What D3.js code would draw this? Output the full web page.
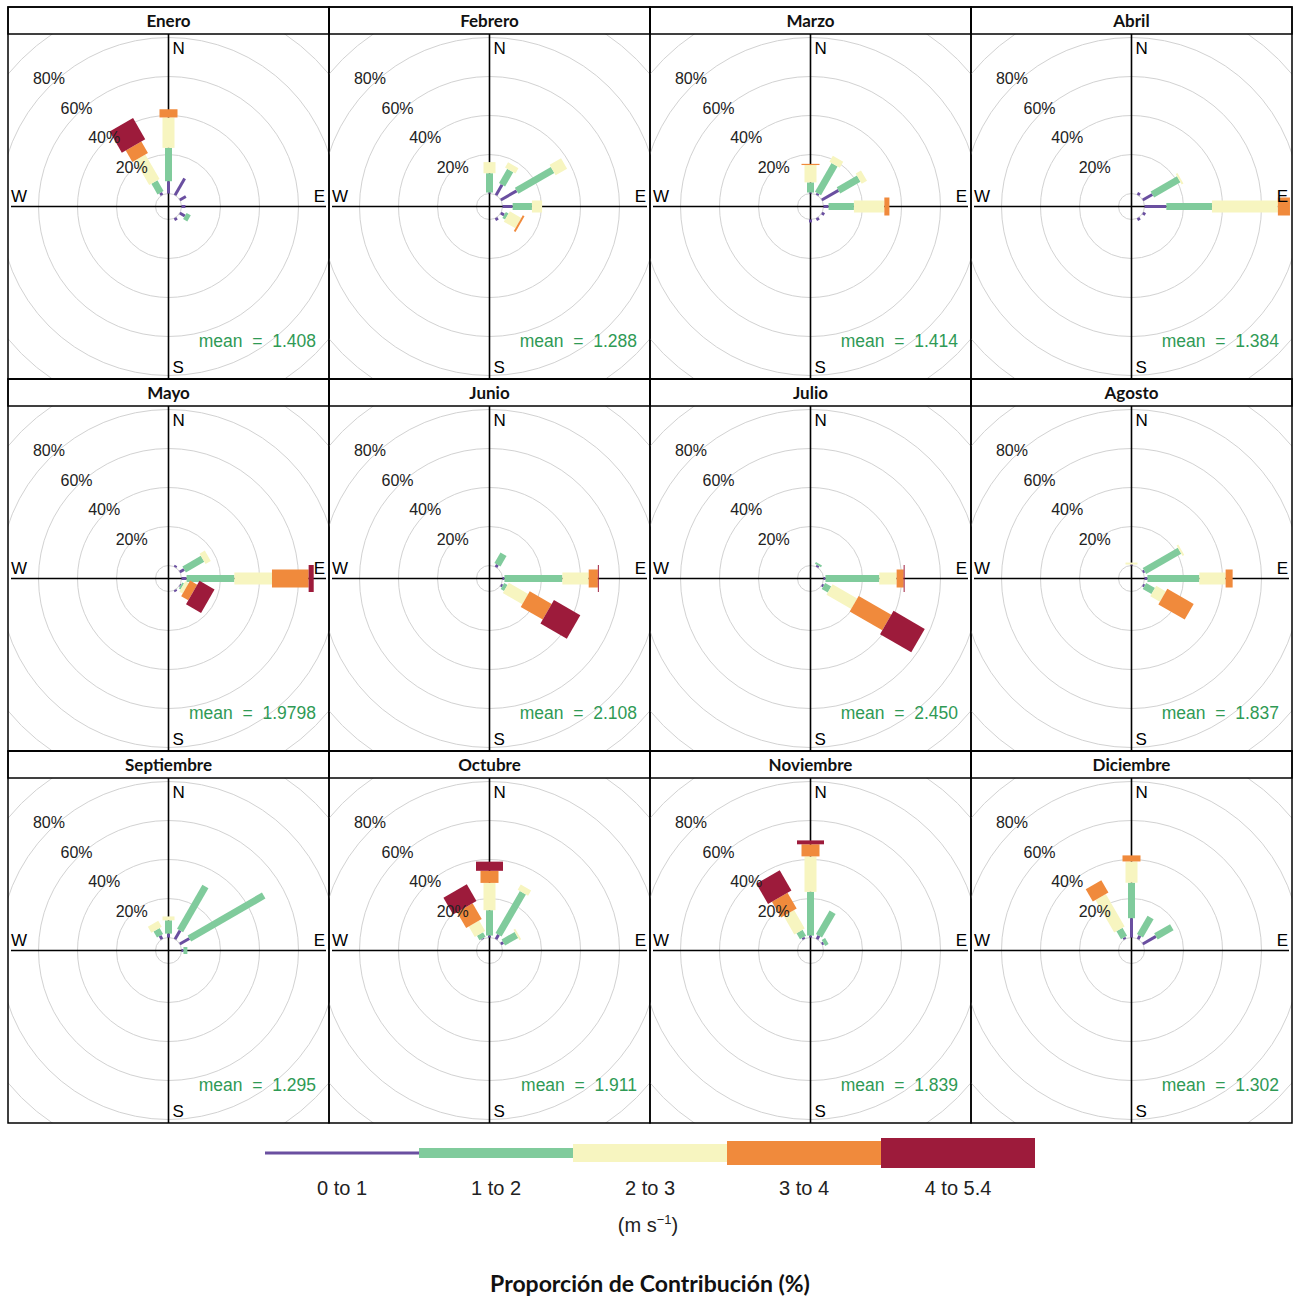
<!DOCTYPE html>
<html>
<head>
<meta charset="utf-8">
<script src="https://cdn.jsdelivr.net/npm/d3@7"></script>
<style>
  body { margin: 0; background: #fff; }
  svg { display: block; }
  .strip text { font-family: Lato, "Open Sans", sans-serif; font-weight: bold; font-size: 17px; }
  .lab { font-family: "Liberation Sans", Arial, sans-serif; }
</style>
</head>
<body>
<svg width="1294" height="1300"></svg>
<script>
const months = ['Enero', 'Febrero', 'Marzo', 'Abril', 'Mayo', 'Junio',
                'Julio', 'Agosto', 'Septiembre', 'Octubre', 'Noviembre', 'Diciembre'];
const means = ['1.408', '1.288', '1.414', '1.384', '1.9798', '2.108',
               '2.450', '1.837', '1.295', '1.911', '1.839', '1.302'];
const intervals = ['0 to 1', '1 to 2', '2 to 3', '3 to 4', '4 to 5.4'];
const ringTicks = [20, 40, 60, 80];

// [direction, 0-1, 1-2, 2-3, 3-4, 4-5.4] in % contribution
const enero = [[0, 6.3, 17.1, 15.6, 4.2, 0], [330, 1.5, 6.3, 14.6, 6.8, 12.5], [30, 9.9, 0, 0, 0, 0],
               [60, 3.6, 0, 0, 0, 0], [90, 2, 0, 0, 0, 0], [120, 3, 2.5, 0, 0, 0], [150, 1.5, 0, 0, 0, 0]];
const febrero = [[0, 0.5, 9.9, 5.7, 0, 0], [30, 6.2, 8.4, 3.1, 0, 0], [60, 9.4, 21.3, 6.8, 0, 0],
                 [90, 5.2, 9.9, 5.2, 0, 0], [120, 2, 1.6, 6.8, 1, 0], [150, 1.5, 0, 0, 0, 0]];
const marzo = [[0, 0.5, 5.2, 8.9, 0.6, 0], [30, 1, 17, 3.6, 0, 0], [60, 9.9, 12, 3.1, 0, 0],
               [90, 2.6, 13, 15.6, 2.6, 0], [120, 1.5, 0, 0, 0, 0], [150, 1.5, 0, 0, 0, 0], [180, 1.5, 0, 0, 0, 0]];
const abril = [[30, 1.5, 0, 0, 0, 0], [60, 5.7, 15.6, 1, 0, 0], [90, 11.2, 23.4, 33.8, 6.2, 0],
               [120, 1.5, 0, 0, 0, 0], [150, 1.5, 0, 0, 0, 0]];
const mayo = [[30, 1, 0, 0, 0, 0], [60, 2.6, 10.9, 3.1, 0, 0], [90, 2.6, 24.5, 19.3, 18.8, 2.6],
              [120, 0.5, 1, 2, 4.2, 8.9], [150, 1, 0, 0, 0, 0]];
const junio = [[30, 1.5, 6.2, 0, 0, 0], [90, 1, 29.7, 13.5, 4.7, 0.5], [120, 1, 2, 11.5, 13, 15.6]];
const julio = [[30, 1, 1, 0, 0, 0], [90, 1, 27.6, 8.9, 3.6, 0.5], [120, 1, 3.6, 14.6, 19.3, 18.5]];
const agosto = [[0, 0.5, 0, 1, 0, 0], [60, 1, 20.8, 1, 0, 0], [90, 1.5, 26.6, 13.5, 3.6, 0],
                [120, 1, 5.2, 5.7, 15.6, 0]];
const septiembre = [[330, 2, 3.6, 3.6, 0, 0], [0, 2, 6.8, 2, 0, 0], [30, 5.2, 26, 0, 0, 0],
                    [60, 5.7, 44, 0, 0, 0], [90, 1, 2, 0, 0, 0]];
const octubre = [[330, 0.5, 2.6, 6.2, 9.4, 9.9], [0, 1, 13, 14, 6.2, 4.7], [30, 2.6, 25, 3.1, 0, 0],
                 [60, 1.5, 7.8, 1, 0, 0]];
const noviembre = [[330, 1, 3.6, 10.9, 9.4, 12], [0, 1, 22.4, 18.2, 6.2, 2], [30, 2, 14, 0, 0, 0],
                   [60, 1, 2, 0, 0, 0]];
const diciembre = [[330, 1, 4.7, 19.3, 7.3, 0], [0, 9.9, 18.2, 10.9, 3.1, 0], [30, 2, 10.9, 0, 0, 0],
                   [60, 7.8, 9.4, 0, 0, 0]];
const roses = [enero, febrero, marzo, abril, mayo, junio, julio, agosto, septiembre, octubre, noviembre, diciembre];

const colours = ['#6a4fa0', '#80cb9c', '#f7f5c0', '#f08a3c', '#9d1b3b'];
const paddleW = [3, 7, 12, 18, 27];

const svg = d3.select('svg');
const gridX = 8, gridY = 7, colW = 321, rowH = 372, stripH = 27;
const offset = 13, ringStep = 39;

const r = d3.scaleLinear().domain([0, 20]).range([offset, offset + ringStep]);
const colour = d3.scaleOrdinal().domain(intervals).range(colours);
const width = d3.scaleOrdinal().domain(intervals).range(paddleW);

months.forEach((m, i) => {
	const col = i % 4, row = Math.floor(i / 4);
	const x0 = gridX + col * colW, y0 = gridY + row * rowH;
	const ph = rowH - stripH;
	const cx = x0 + colW / 2, cy = y0 + stripH + ph / 2;

	const g = svg.append('g');
	const clipId = 'clip' + i;
	svg.append('clipPath').attr('id', clipId)
	   .append('rect').attr('x', x0).attr('y', y0 + stripH).attr('width', colW).attr('height', ph);

	// rings
	const rings = g.append('g').attr('clip-path', `url(#${clipId})`);
	rings.selectAll('circle')
	     .data(d3.range(0, 160, 20))
	     .join('circle')
	     .attr('cx', cx).attr('cy', cy)
	     .attr('r', d => r(d))
	     .attr('fill', 'none')
	     .attr('stroke', '#d2d2d2')
	     .attr('stroke-width', 1);

	// axes
	g.append('line').attr('x1', cx).attr('x2', cx).attr('y1', y0 + stripH).attr('y2', y0 + rowH)
	 .attr('stroke', '#000').attr('stroke-width', 1.6);
	g.append('line').attr('x1', x0 + 3).attr('x2', x0 + colW - 3).attr('y1', cy).attr('y2', cy)
	 .attr('stroke', '#000').attr('stroke-width', 1.6);

	// paddles
	const stacks = roses[i].map(([dir, ...vals]) => {
		let acc = 0;
		return vals.map((v, k) => ({ dir, key: intervals[k], from: acc, to: (acc += v) }))
		           .filter(d => d.to > d.from);
	}).flat();
	g.append('g').attr('transform', `translate(${cx},${cy})`)
	 .selectAll('rect')
	 .data(stacks)
	 .join('rect')
	 .attr('transform', d => `rotate(${d.dir})`)
	 .attr('x', d => -width(d.key) / 2)
	 .attr('y', d => -r(d.to))
	 .attr('width', d => width(d.key))
	 .attr('height', d => r(d.to) - r(d.from))
	 .attr('fill', d => colour(d.key));

	// ring labels towards the north-west
	g.selectAll('text.pct')
	 .data(ringTicks)
	 .join('text')
	 .attr('class', 'pct lab')
	 .attr('x', d => cx - r(d) * Math.SQRT1_2)
	 .attr('y', d => cy - r(d) * 0.76 + 6)
	 .attr('text-anchor', 'middle')
	 .attr('font-size', 16)
	 .attr('fill', '#222')
	 .text(d => d + '%');

	// compass labels
	const lab = (x, y, t, anchor) => g.append('text').attr('class', 'lab')
		.attr('x', x).attr('y', y).attr('text-anchor', anchor || 'start')
		.attr('font-size', 17).attr('fill', '#000').text(t);
	lab(cx + 4, y0 + stripH + 20, 'N');
	lab(cx + 4, y0 + rowH - 6, 'S');
	lab(x0 + 3, cy - 5, 'W');
	lab(x0 + colW - 4, cy - 5, 'E', 'end');

	g.append('text').attr('class', 'lab')
	 .attr('x', x0 + colW - 13).attr('y', cy + 140)
	 .attr('text-anchor', 'end').attr('font-size', 17.5)
	 .attr('fill', '#2f9a55')
	 .attr('xml:space', 'preserve')
	 .text('mean  =  ' + means[i]);

	// strip + panel frame
	g.append('rect').attr('x', x0).attr('y', y0).attr('width', colW).attr('height', stripH)
	 .attr('fill', 'none').attr('stroke', '#000').attr('stroke-width', 1.5);
	g.append('rect').attr('x', x0).attr('y', y0).attr('width', colW).attr('height', rowH)
	 .attr('fill', 'none').attr('stroke', '#000').attr('stroke-width', 1.5);
	g.append('g').attr('class', 'strip').append('text')
	 .attr('x', cx).attr('y', y0 + 20).attr('text-anchor', 'middle').attr('fill', '#111').text(m);
});

// legend
const lx = d3.scaleBand().domain(intervals).range([265, 1035]);
const legendH = d3.scaleOrdinal().domain(intervals).range([3, 10, 18, 24, 30]);
const lg = svg.append('g');
lg.selectAll('rect')
  .data(intervals)
  .join('rect')
  .attr('x', d => lx(d))
  .attr('y', d => 1153 - legendH(d) / 2)
  .attr('width', lx.bandwidth())
  .attr('height', d => legendH(d))
  .attr('fill', d => colour(d));
lg.selectAll('text')
  .data(intervals)
  .join('text')
  .attr('class', 'lab')
  .attr('x', d => lx(d) + lx.bandwidth() / 2)
  .attr('y', 1195)
  .attr('text-anchor', 'middle')
  .attr('font-size', 20)
  .attr('fill', '#222')
  .text(d => d);
const unit = lg.append('text').attr('class', 'lab').attr('x', 648).attr('y', 1232)
  .attr('text-anchor', 'middle').attr('font-size', 20).attr('fill', '#222');
unit.append('tspan').text('(m s');
unit.append('tspan').attr('dy', -8).attr('font-size', 13).text('\u22121');
unit.append('tspan').attr('dy', 8).text(')');

svg.append('text')
   .attr('x', 650).attr('y', 1292)
   .attr('text-anchor', 'middle')
   .attr('font-family', 'Lato, "Open Sans", sans-serif')
   .attr('font-weight', 'bold')
   .attr('font-size', 23)
   .attr('fill', '#111')
   .text('Proporción de Contribución (%)');
</script>
</body>
</html>
